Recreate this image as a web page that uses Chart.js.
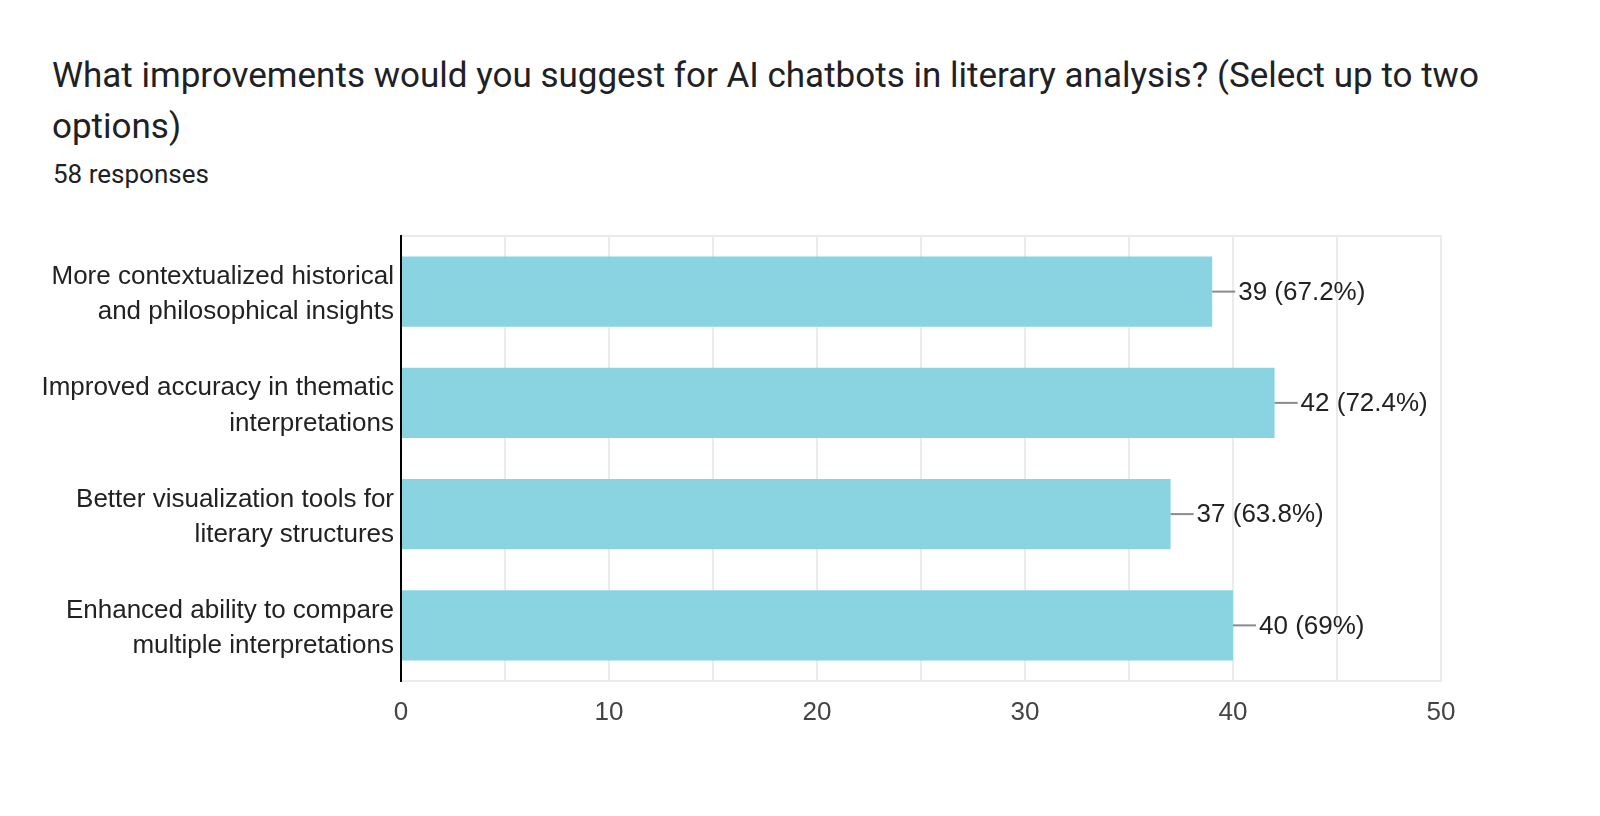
<!DOCTYPE html>
<html>
<head>
<meta charset="utf-8">
<script src="https://cdn.jsdelivr.net/npm/chart.js"></script>
<style>
  html, body { margin: 0; padding: 0; background: #fff; overflow: hidden; }
  body { width: 1600px; height: 816px; position: relative; font-family: Roboto, Arial, sans-serif; }
  #title { position: absolute; left: 52px; top: 50px; white-space: nowrap; font-size: 35px; line-height: 51px; color: #202124; }
  #sub { position: absolute; left: 53px; top: 159px; font-size: 26px; color: #202124; white-space: nowrap; }
  #wrap { position: absolute; left: 0; top: 0; width: 1600px; height: 816px; }
</style>
</head>
<body>
<div id="title">What improvements would you suggest for AI chatbots in literary analysis? (Select up to two<br>options)</div>
<div id="sub">58 responses</div>
<div id="wrap"><canvas id="chart"></canvas></div>
<script>
const categories = [
  ['More contextualized historical', 'and philosophical insights'],
  ['Improved accuracy in thematic', 'interpretations'],
  ['Better visualization tools for', 'literary structures'],
  ['Enhanced ability to compare', 'multiple interpretations']
];
const counts = [39, 42, 37, 40];
const labels = ['39 (67.2%)', '42 (72.4%)', '37 (63.8%)', '40 (69%)'];
const ticksX = [0, 10, 20, 30, 40, 50];

const FONT = '"Liberation Sans", Arial, sans-serif';

// borde gris del área del gráfico y eje negro a la izquierda
const frame = {
  id: 'frame',
  beforeDatasetsDraw(chart) {
    const a = chart.chartArea, ctx = chart.ctx;
    ctx.save();
    ctx.strokeStyle = '#ebebeb';
    ctx.lineWidth = 2;
    ctx.strokeRect(a.left, a.top, a.right - a.left, a.bottom - a.top);
    ctx.restore();
  },
  afterDatasetsDraw(chart) {
    const a = chart.chartArea, ctx = chart.ctx;
    ctx.save();
    ctx.strokeStyle = '#000';
    ctx.lineWidth = 2;
    ctx.beginPath();
    ctx.moveTo(a.left, a.top - 1);
    ctx.lineTo(a.left, a.bottom + 1);
    ctx.stroke();
    ctx.restore();
  }
};

// etiquetas con línea guía
const valueLabels = {
  id: 'valueLabels',
  afterDatasetsDraw(chart) {
    const ctx = chart.ctx;
    const meta = chart.getDatasetMeta(0);
    ctx.save();
    ctx.font = '26px ' + FONT;
    ctx.textBaseline = 'middle';
    meta.data.forEach((bar, i) => {
      ctx.strokeStyle = '#8a8a8a';
      ctx.lineWidth = 2;
      ctx.beginPath();
      ctx.moveTo(bar.x, bar.y);
      ctx.lineTo(bar.x + 23, bar.y);
      ctx.stroke();
      ctx.fillStyle = '#222';
      ctx.fillText(labels[i], bar.x + 26, bar.y + 1);
    });
    ctx.restore();
  }
};

new Chart(document.getElementById('chart'), {
  type: 'bar',
  data: {
    labels: categories,
    datasets: [{
      data: counts,
      backgroundColor: '#8ad3e1',
      borderWidth: 0,
      barPercentage: 0.63,
      categoryPercentage: 1
    }]
  },
  options: {
    indexAxis: 'y',
    responsive: true,
    maintainAspectRatio: false,
    animation: false,
    layout: { padding: { top: 236, right: 159, left: 0, bottom: 0 } },
    plugins: { legend: { display: false }, tooltip: { enabled: false } },
    scales: {
      x: {
        min: 0,
        max: 50,
        afterFit(axis) { axis.height = 135; },
        grid: { color: '#ebebeb', lineWidth: 2, drawTicks: false },
        border: { display: false },
        ticks: {
          stepSize: 5,
          padding: 16,
          autoSkip: false,
          maxRotation: 0,
          color: '#444',
          font: { family: FONT, size: 26 },
          callback: v => ticksX.includes(v) ? v : ''
        }
      },
      y: {
        afterFit(axis) { axis.width = 401; },
        grid: { display: false, drawTicks: false },
        border: { display: false },
        ticks: {
          padding: 7,
          labelOffset: 3,
          color: '#222',
          font: { family: FONT, size: 26, lineHeight: 1.36 }
        }
      }
    }
  },
  plugins: [frame, valueLabels]
});
</script>
</body>
</html>
